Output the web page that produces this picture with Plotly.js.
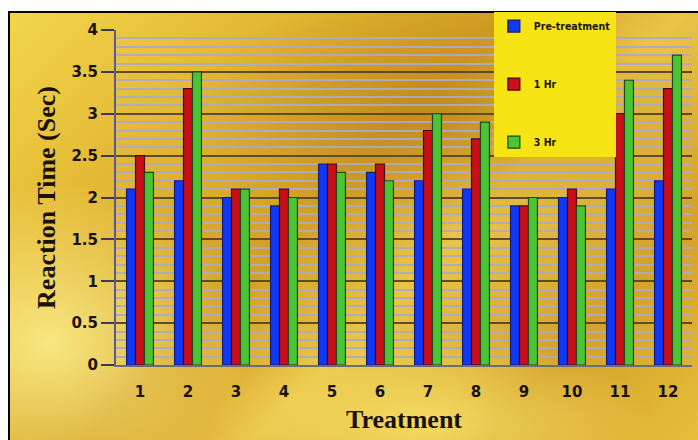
<!DOCTYPE html>
<html><head><meta charset="utf-8">
<script src="https://cdn.plot.ly/plotly-3.0.1.min.js"></script>
<style>
html,body{margin:0;padding:0;background:#fff;width:698px;height:440px;overflow:hidden;}
#bg{position:absolute;left:8px;top:11px;width:690px;height:429px;box-sizing:border-box;border-left:2px solid #000;border-top:2px solid #000;
background:
radial-gradient(ellipse 260px 120px at 430px 100px, rgba(180,120,20,0.55), rgba(180,120,20,0) 100%),
radial-gradient(ellipse 200px 160px at 40px 330px, rgba(255,245,150,0.8), rgba(255,245,150,0) 100%),
radial-gradient(ellipse 220px 90px at 420px 410px, rgba(255,240,120,0.7), rgba(255,240,120,0) 100%),
linear-gradient(135deg,#f3d54a 0%,#e2b632 25%,#d39f24 45%,#e9c447 60%,#d4a12a 80%,#e7bd3a 100%);}
#chart{position:absolute;left:0;top:0;width:698px;height:440px;}
</style></head>
<body>
<div id="bg"></div>
<div id="chart"></div>
<script>
const categories = ['1','2','3','4','5','6','7','8','9','10','11','12'];
const preTreatment = [2.1, 2.2, 2.0, 1.9, 2.4, 2.3, 2.2, 2.1, 1.9, 2.0, 2.1, 2.2];
const oneHr       = [2.5, 3.3, 2.1, 2.1, 2.4, 2.4, 2.8, 2.7, 1.9, 2.1, 3.0, 3.3];
const threeHr     = [2.3, 3.5, 2.1, 2.0, 2.3, 2.2, 3.0, 2.9, 2.0, 1.9, 3.4, 3.7];
const seriesNames = ['Pre-treatment', '1 Hr', '3 Hr'];
const yTicks = [0, 0.5, 1, 1.5, 2, 2.5, 3, 3.5, 4];
const yTickText = ['0', '0.5', '1', '1.5', '2', '2.5', '3', '3.5', '4'];

const colors = ['#1436f5', '#c8101c', '#4cc436'];
const edge = ['#10206a', '#4a0808', '#1c4a10'];
const vals = [preTreatment, oneHr, threeHr];

const traces = vals.map((v, i) => ({
  type: 'bar', x: categories, y: v, name: seriesNames[i], legendgroup: 'g' + i,
  marker: {color: colors[i], line: {color: edge[i], width: 1.2}},
  hoverinfo: 'x+y+name'
}));

const layout = {
  width: 698, height: 440,
  paper_bgcolor: 'rgba(0,0,0,0)', plot_bgcolor: 'rgba(0,0,0,0)',
  margin: {l: 116, r: 6, t: 30, b: 75},
  barmode: 'group', bargap: 0.44, bargroupgap: 0,
  xaxis: {
    type: 'category', showgrid: false, zeroline: false,
    showline: true, linecolor: '#6a6a80', linewidth: 2,
    tickfont: {family: 'DejaVu Sans', size: 15, color: '#1a1208', weight: 'bold'},
    ticks: '', ticklabelstandoff: 12,
    title: {text: 'Treatment', font: {family: 'Liberation Serif', size: 26, color: '#1a1208', weight: 'bold'}, standoff: 10}
  },
  yaxis: {
    range: [0, 4], tickvals: yTicks, ticktext: yTickText, ticksuffix: '\u00a0\u00a0',
    showgrid: true, gridcolor: '#5e4a2c', gridwidth: 2,
    minor: {dtick: 0.1, showgrid: true, gridcolor: 'rgba(170,170,205,0.9)', gridwidth: 2, ticks: ''},
    zeroline: false, showline: true, linecolor: '#5a5a90', linewidth: 2,
    ticks: 'outside', ticklen: 13, tickcolor: '#3a3a50', tickwidth: 2,
    tickfont: {family: 'DejaVu Sans', size: 15, color: '#1a1208', weight: 'bold'},
    title: {text: 'Reaction Time (Sec)', font: {family: 'Liberation Serif', size: 26, color: '#1a1208', weight: 'bold'}, standoff: 8}
  },
  legend: {
    x: 0.656, xanchor: 'left', y: 1.055, yanchor: 'top',
    bgcolor: '#f6e414', borderwidth: 0,
    font: {family: 'DejaVu Sans Condensed', size: 10.5, color: '#1a1208', weight: 'bold'},
    tracegroupgap: 39, itemwidth: 30
  },
  showlegend: true
};

Plotly.newPlot('chart', traces, layout, {displayModeBar: false, staticPlot: true});
</script>
</body></html>
